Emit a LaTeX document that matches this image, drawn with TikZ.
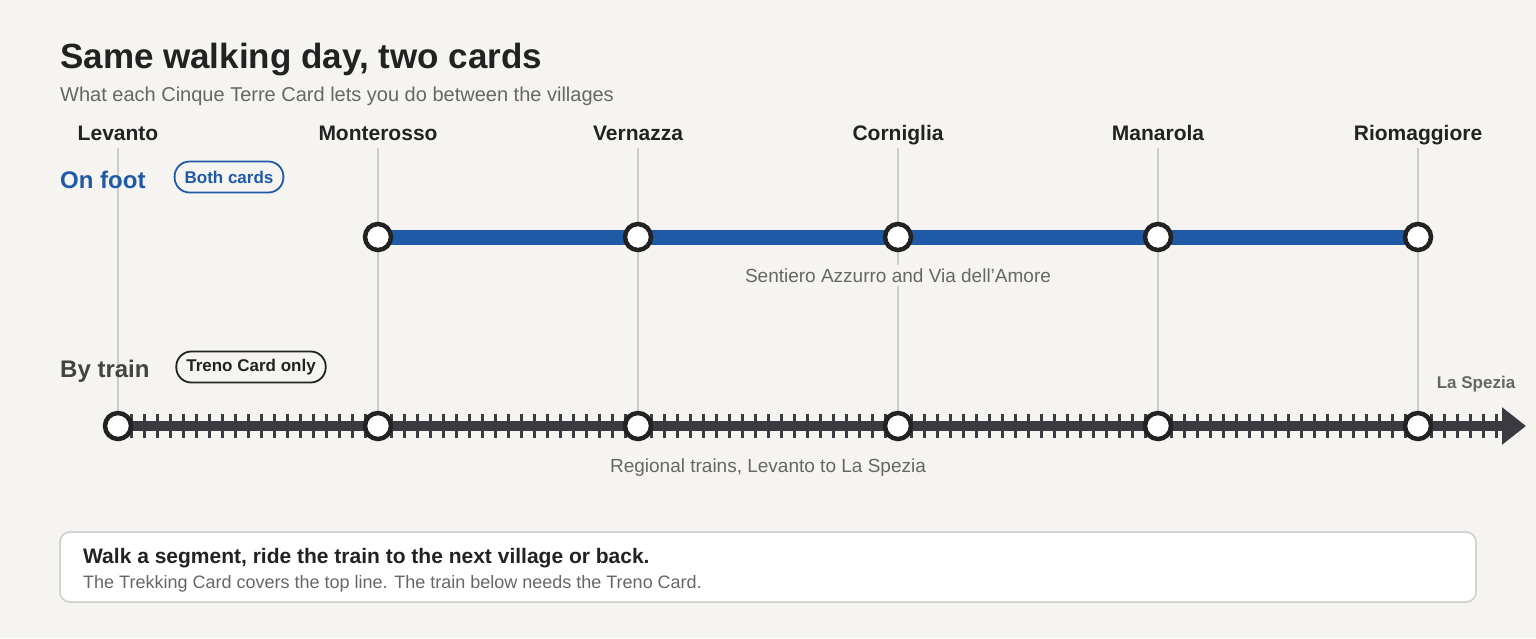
\documentclass[tikz,border=0pt]{standalone}
\usepackage{fontspec}
\setmainfont{Liberation Sans}
\usetikzlibrary{arrows.meta}
\definecolor{bg}{HTML}{F6F4F1}
\definecolor{blu}{HTML}{1F5AA6}
\definecolor{dk}{HTML}{222222}
\definecolor{trk}{HTML}{3A3A40}
\definecolor{gl}{HTML}{CCCCCC}
\definecolor{gt}{HTML}{666666}
\begin{document}
\begin{tikzpicture}[x=1pt,y=-1pt,
  stop/.style={circle,draw=dk,line width=4.5pt,fill=white,minimum size=26pt,inner sep=0pt},
  vil/.style={font=\fontsize{21}{25}\selectfont\bfseries,text=dk,anchor=base},
  vline/.style={draw=gl,line width=1.5pt},
  pill/.style={draw,rounded corners=15pt,line width=1.8pt,fill=bg,inner xsep=10pt,minimum height=31pt,font=\fontsize{17}{20}\selectfont\bfseries},
  note/.style={font=\fontsize{19}{22}\selectfont,text=gt,anchor=base}]
\fill[bg] (0,0) rectangle (1536,638);
\useasboundingbox (0,0) rectangle (1536,638);
\node[anchor=base west,font=\fontsize{35}{40}\selectfont\bfseries,text=dk,inner sep=0] (title) at (60,68) {Same walking day, two cards};
\node[anchor=base west,font=\fontsize{20}{23}\selectfont,text=gt,inner sep=0] (sub) at (60,101) {What each Cinque Terre Card lets you do between the villages};
\foreach \n/\x/\t in {a/118/Levanto,b/378/Monterosso,c/638/Vernazza,d/898/Corniglia,e/1158/Manarola,f/1418/Riomaggiore}{
  \node[vil] (l\n) at (\x,140) {\t};
  \coordinate (top\n) at (\x,148);
  \coordinate (f\n) at (\x,237);
  \coordinate (t\n) at (\x,426);
}
\foreach \n in {a,b,c,e,f}{ \draw[vline] (top\n) -- (t\n); }
\node[anchor=base west,font=\fontsize{24}{28}\selectfont\bfseries,text=blu,inner sep=0] (onfoot) at (60,188) {On foot};
\node[pill,draw=blu,text=blu] (both) at (229,177) {Both cards};
\node[anchor=base west,font=\fontsize{24}{28}\selectfont\bfseries,text=dk!85,inner sep=0] (bytrain) at (60,377) {By train};
\node[pill,draw=dk,text=dk] (treno) at (251,367) {Treno Card only};
\node[note] (sent) at (898,282) {Sentiero Azzurro and Via dell'Amore};
\node[note] (reg) at (768,472) {Regional trains, Levanto to La Spezia};
\node[anchor=base,font=\fontsize{17}{20}\selectfont\bfseries,text=gt] (spez) at (1476,388) {La Spezia};
\draw[vline] (topd) -- (sent.north -| topd);
\draw[vline] (sent.south -| topd) -- (td);
% train
\foreach \i in {1,...,106}{ \draw[trk,line width=3pt] (118+13*\i,414) -- (118+13*\i,438); }
\coordinate (end) at (1526,426);
\draw[trk,line width=10pt,-{Triangle[length=24pt,width=36pt]}] (ta) -- (end);
% foot line
\draw[blu,line width=15pt] (fb) -- (ff);
\foreach \n in {b,c,d,e,f}{ \node[stop] at (f\n) {}; }
\foreach \n in {a,b,c,d,e,f}{ \node[stop] at (t\n) {}; }
% bottom box
\draw[gl,fill=white,line width=1.5pt,rounded corners=10pt] (60,532) rectangle (1476,602);
\node[anchor=base west,font=\fontsize{21}{25}\selectfont\bfseries,text=dk,inner sep=0] (b1) at (83,563) {Walk a segment, ride the train to the next village or back.};
\node[anchor=base west,font=\fontsize{18}{21}\selectfont,text=gt,inner sep=0] (b2) at (83,588) {The Trekking Card covers the top line. The train below needs the Treno Card.};
\end{tikzpicture}
\end{document}
